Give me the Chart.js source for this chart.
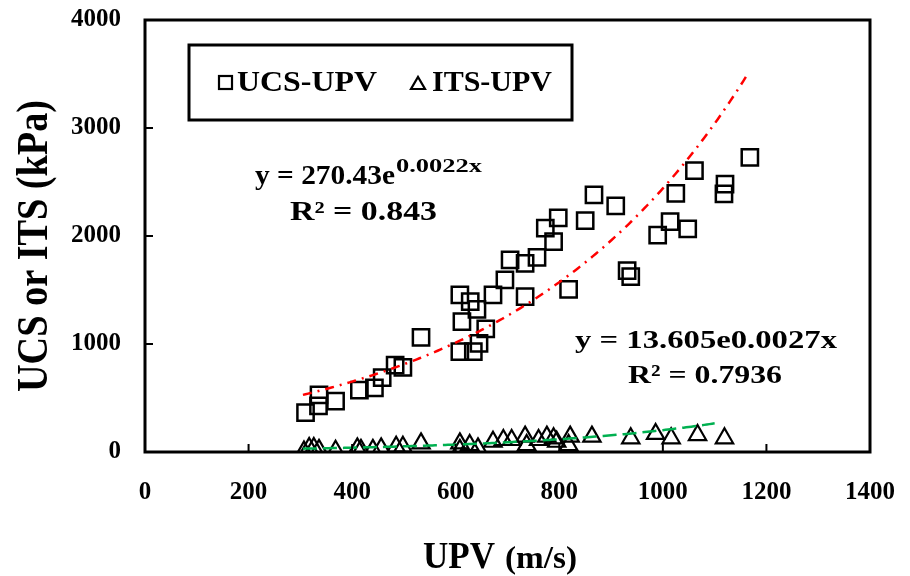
<!DOCTYPE html>
<html>
<head>
<meta charset="utf-8">
<script src="https://cdn.jsdelivr.net/npm/chart.js@4"></script>
<style>
  html, body { margin: 0; padding: 0; background: #fff; }
  #wrap { width: 910px; height: 576px; }
</style>
</head>
<body>
<div id="wrap"><canvas id="upvChart" width="910" height="576"></canvas></div>
<script>
// UCS data (UPV m/s, kPa)
const ucsUpv = [310, 335, 336, 368, 414, 443, 458, 483, 498, 533, 608, 628, 641, 612, 608, 634, 645, 658, 672, 695,
    734, 705, 734, 757, 789, 773, 798, 818, 850, 867, 909, 931, 938, 990, 1014, 1025, 1048, 1061, 1118, 1120, 1168];
const ucsVal = [364, 426, 528, 472, 574, 593, 688, 805, 784, 1062, 1454, 1392, 1321, 1207, 929, 929, 1006, 1139, 1454, 1593,
    1438, 1778, 1747, 1802, 1947, 2074, 2167, 1506, 2142, 2380, 2278, 1679, 1623, 2009, 2133, 2395, 2065, 2605, 2389, 2481, 2728];

// ITS data
const itsUpv = [307, 317, 326, 336, 368, 410, 417, 440, 456, 485, 498, 533, 608, 608, 627, 643, 672, 692, 708, 734,
    737, 760, 776, 789, 795, 821, 818, 863, 938, 986, 1016, 1067, 1119];
const itsVal = [5, 37, 37, 20, 12, 34, 20, 20, 34, 49, 49, 80, 80, 20, 65, 34, 95, 111, 111, 142,
    65, 111, 142, 127, 95, 142, 65, 142, 127, 167, 127, 157, 127];

// 近似式 (図中の式)
const ucsFit = { a: 270.43, b: 0.0022, from: 305, to: 1167 };
const itsFit = { a: 13.605, b: 0.0027, from: 305, to: 1100 };

const xTicks = [0, 200, 400, 600, 800, 1000, 1200, 1400];
const yTicks = [0, 1000, 2000, 3000, 4000];

function fitLine(f) {
    const pts = [];
    for (let x = f.from; x <= f.to; x += 5) pts.push({ x: x, y: f.a * Math.exp(f.b * x) });
    return pts;
}
function toPts(xs, ys) { return xs.map((x, i) => ({ x: x, y: ys[i] })); }

const serif = "'Liberation Serif', 'Times New Roman', serif";

// 文字を指定幅に合わせて描く
function fitText(c, txt, x, y, size, width, weight) {
    c.save();
    c.font = (weight || 'bold') + ' ' + size + 'px ' + serif;
    const w = c.measureText(txt).width;
    c.translate(x, y);
    c.scale(width / w, 1);
    c.fillText(txt, 0, 0);
    c.restore();
}

// 枠・目盛・凡例・式を描くプラグイン
const decor = {
    id: 'decor',
    afterDraw(chart) {
        const c = chart.ctx, a = chart.chartArea;
        const xs = chart.scales.x, ys = chart.scales.y;
        c.save();
        c.strokeStyle = '#000';
        c.lineWidth = 3;
        c.strokeRect(a.left, a.top, a.right - a.left, a.bottom - a.top);
        c.lineWidth = 2;
        c.beginPath();
        xTicks.forEach(v => { const p = xs.getPixelForValue(v); c.moveTo(p, a.bottom); c.lineTo(p, a.bottom - 8); });
        yTicks.forEach(v => { const p = ys.getPixelForValue(v); c.moveTo(a.left, p); c.lineTo(a.left + 8, p); });
        c.stroke();

        // 凡例
        c.fillStyle = '#fff';
        c.fillRect(189, 45, 383, 75);
        c.lineWidth = 3;
        c.strokeRect(189, 45, 383, 75);
        c.lineWidth = 2.2;
        c.strokeRect(219, 76, 13, 13);
        c.beginPath();
        c.moveTo(411, 89); c.lineTo(425, 89); c.lineTo(418, 77); c.closePath();
        c.stroke();
        c.fillStyle = '#000';
        c.textBaseline = 'alphabetic';
        c.textAlign = 'left';
        fitText(c, 'UCS-UPV', 237, 91, 29, 140);
        fitText(c, 'ITS-UPV', 432, 91, 29, 120);

        // 式
        fitText(c, 'y = 270.43e', 255, 184, 27, 140);
        fitText(c, '0.0022x', 396, 172, 18, 86);
        fitText(c, 'R\u00B2 = 0.843', 290, 220, 27, 147);
        fitText(c, 'y = 13.605e0.0027x', 575, 348, 26, 262);
        fitText(c, 'R\u00B2 = 0.7936', 628, 383, 26, 154);

        // 軸タイトル
        fitText(c, 'UPV', 423, 568, 37, 72);
        fitText(c, '(m/s)', 505, 568, 31, 72);

        c.translate(47, 392);
        c.rotate(-Math.PI / 2);
        fitText(c, 'UCS or ITS (kPa)', 0, 0, 44, 292);
        c.restore();
    }
};

new Chart(document.getElementById('upvChart').getContext('2d'), {
    type: 'scatter',
    data: {
        datasets: [
            {
                label: 'UCS-UPV',
                data: toPts(ucsUpv, ucsVal),
                pointStyle: 'rect',
                pointRadius: 11.5,
                borderColor: '#000',
                backgroundColor: 'rgba(0,0,0,0)',
                borderWidth: 2.5,
                order: 2
            },
            {
                label: 'ITS-UPV',
                data: toPts(itsUpv, itsVal),
                pointStyle: 'triangle',
                pointRadius: 10,
                borderColor: '#000',
                backgroundColor: 'rgba(0,0,0,0)',
                borderWidth: 2.2,
                order: 2
            },
            {
                type: 'line',
                label: 'UCS fit',
                data: fitLine(ucsFit),
                borderColor: '#ff0000',
                borderWidth: 2.5,
                borderDash: [9, 6, 2, 6],
                pointRadius: 0,
                fill: false,
                order: 1
            },
            {
                type: 'line',
                label: 'ITS fit',
                data: fitLine(itsFit),
                borderColor: '#00b050',
                borderWidth: 2.5,
                borderDash: [14, 6],
                pointRadius: 0,
                fill: false,
                order: 1
            }
        ]
    },
    options: {
        responsive: false,
        animation: false,
        layout: { padding: { top: 20, right: 40, left: 0, bottom: 0 } },
        plugins: { legend: { display: false }, tooltip: { enabled: false } },
        scales: {
            x: {
                type: 'linear',
                min: 0, max: 1400,
                afterBuildTicks: s => { s.ticks = xTicks.map(v => ({ value: v })); },
                afterFit: s => { s.height = 124; s.paddingLeft = 0; s.paddingRight = 0; },
                grid: { display: false, drawTicks: false },
                border: { display: false },
                ticks: { color: '#000', padding: 26, callback: v => String(v), font: { family: serif, size: 25, weight: 'bold' } }
            },
            y: {
                type: 'linear',
                min: 0, max: 4000,
                afterBuildTicks: s => { s.ticks = yTicks.map(v => ({ value: v })); },
                afterFit: s => { s.width = 145; s.paddingTop = 0; s.paddingBottom = 0; },
                grid: { display: false, drawTicks: false },
                border: { display: false },
                ticks: { color: '#000', padding: 24, callback: v => String(v), font: { family: serif, size: 25, weight: 'bold' } }
            }
        }
    },
    plugins: [decor]
});
</script>
</body>
</html>
